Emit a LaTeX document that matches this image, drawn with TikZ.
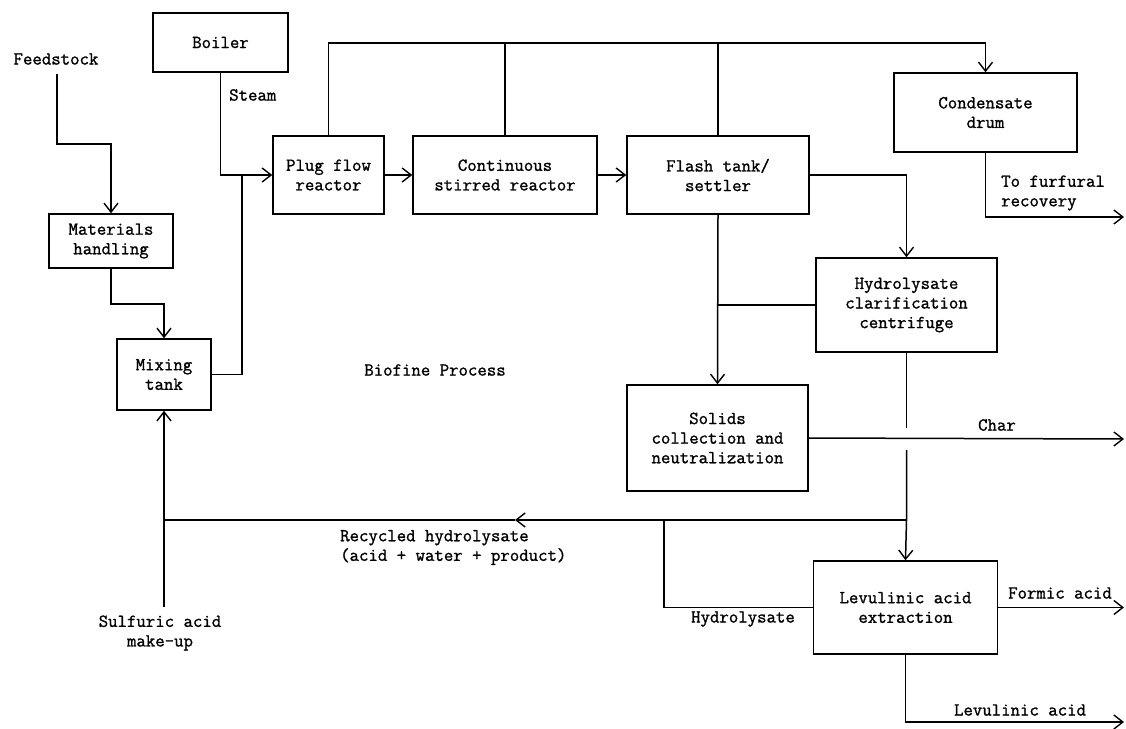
\documentclass[tikz,border=0pt]{standalone}
\usepackage{fontspec}
\newfontfamily\diagfont{Latin Modern Mono}[FakeBold=1.2]
\usetikzlibrary{arrows.meta}
\tikzset{
  every node/.style={font=\diagfont\fontsize{18.3}{19.6}\selectfont, inner sep=0pt},
  box/.style={draw, rectangle, line width=1.5pt, align=center},
  lbl/.style={align=center},
  flow/.style={line width=1.5pt},
  arr/.style={flow, -{Straight Barb[length=9pt,width=14pt,line width=1.4pt]}},
}
\begin{document}
\begin{tikzpicture}[x=1pt,y=-1pt]
\useasboundingbox (0,0) rectangle (1126,728);
% boxes
\node[box, minimum width=135, minimum height=59] (boiler) at (220.5,42.5) {Boiler};
\node[box, minimum width=124, minimum height=54] (matl) at (111,241) {Materials\\handling};
\node[box, minimum width=94, minimum height=71] (mix) at (164,374.5) {Mixing\\tank};
\node[box, minimum width=111, minimum height=78] (plug) at (328.5,175) {Plug flow\\reactor};
\node[box, minimum width=184, minimum height=78] (cstr) at (505,175) {Continuous\\stirred reactor};
\node[box, minimum width=182, minimum height=78] (flash) at (718,175) {Flash tank/\\settler};
\node[box, minimum width=183, minimum height=79] (cond) at (985.5,112.5) {Condensate\\drum};
\node[box, minimum width=181, minimum height=94] (hyd) at (906.5,305) {Hydrolysate\\clarification\\centrifuge};
\node[box, minimum width=181, minimum height=106] (solids) at (717.5,438) {Solids\\collection and\\neutralization};
\node[box, minimum width=184, minimum height=93] (lev) at (905.5,607.5) {Levulinic acid\\extraction};
% labels
\node[lbl] (feed) at (56,59) {Feedstock};
\node[lbl, anchor=west] (steam) at (229,95) {Steam};
\node[lbl, anchor=west, align=left] (furf) at (1001,193) {To furfural\\recovery};
\node[lbl] (bio) at (435,370) {Biofine Process};
\node[lbl] (char) at (997,425) {Char};
\node[lbl, anchor=west, align=left] (recyc) at (340,547.5) {Recycled hydrolysate\\(acid + water + product)};
\node[lbl] (hydl) at (743,619) {Hydrolysate};
\node[lbl] (formic) at (1060,593) {Formic acid};
\node[lbl] (levl) at (1020,710) {Levulinic acid};
\node[lbl] (sulf) at (160,633) {Sulfuric acid\\make-up};
% coordinates
\coordinate (feedtop) at (57,74);
\coordinate (sulftop) at (164,607);
\coordinate (furfend) at (1124,217);
\coordinate (charend) at (1124,439);
\coordinate (formend) at (1124,607.5);
\coordinate (levend) at (1124,722);
\coordinate (recj) at (906.5,520);
\coordinate (recarr) at (515,520);
\coordinate (recl) at (164,520);
\coordinate (hydj) at (664,520);
% connectors
\draw[arr] (feedtop) -- (57,144) -- (111,144) -- (matl.north);
\draw[arr] (matl.south) -- (111,304) -- (164,304) -- (mix.north);
\draw[arr] (boiler.south) -- (220.5,175) -- (plug.west);
\draw[flow] (mix.east) -- (242,374.5) -- (242,175);
\draw[arr] (plug.east) -- (cstr.west);
\draw[arr] (cstr.east) -- (flash.west);
\draw[arr] (plug.north) -- (328.5,43) -- (985.5,43) -- (cond.north);
\draw[flow] (cstr.north) -- (505,43);
\draw[flow] (flash.north) -- (718,43);
\draw[arr] (cond.south) -- (985.5,217) -- (furfend);
\draw[arr] (flash.east) -- (906.5,175) -- (hyd.north);
\draw[arr] (flash.south) -- (solids.north);
\draw[flow] (hyd.west) -- (718,305);
\draw[arr] (solids.east) -- (charend);
\draw[flow] (hyd.south) -- (906.5,428);
\draw[arr] (906.5,450) -- (recj) -- (lev.north);
\draw[arr] (recj) -- (recarr);
\draw[flow] (recarr) -- (recl);
\draw[arr] (sulftop) -- (mix.south);
\draw[flow] (hydj) |- (lev.west);
\draw[arr] (lev.east) -- (formend);
\draw[arr] (lev.south) -- (905.5,722) -- (levend);
\end{tikzpicture}
\end{document}
